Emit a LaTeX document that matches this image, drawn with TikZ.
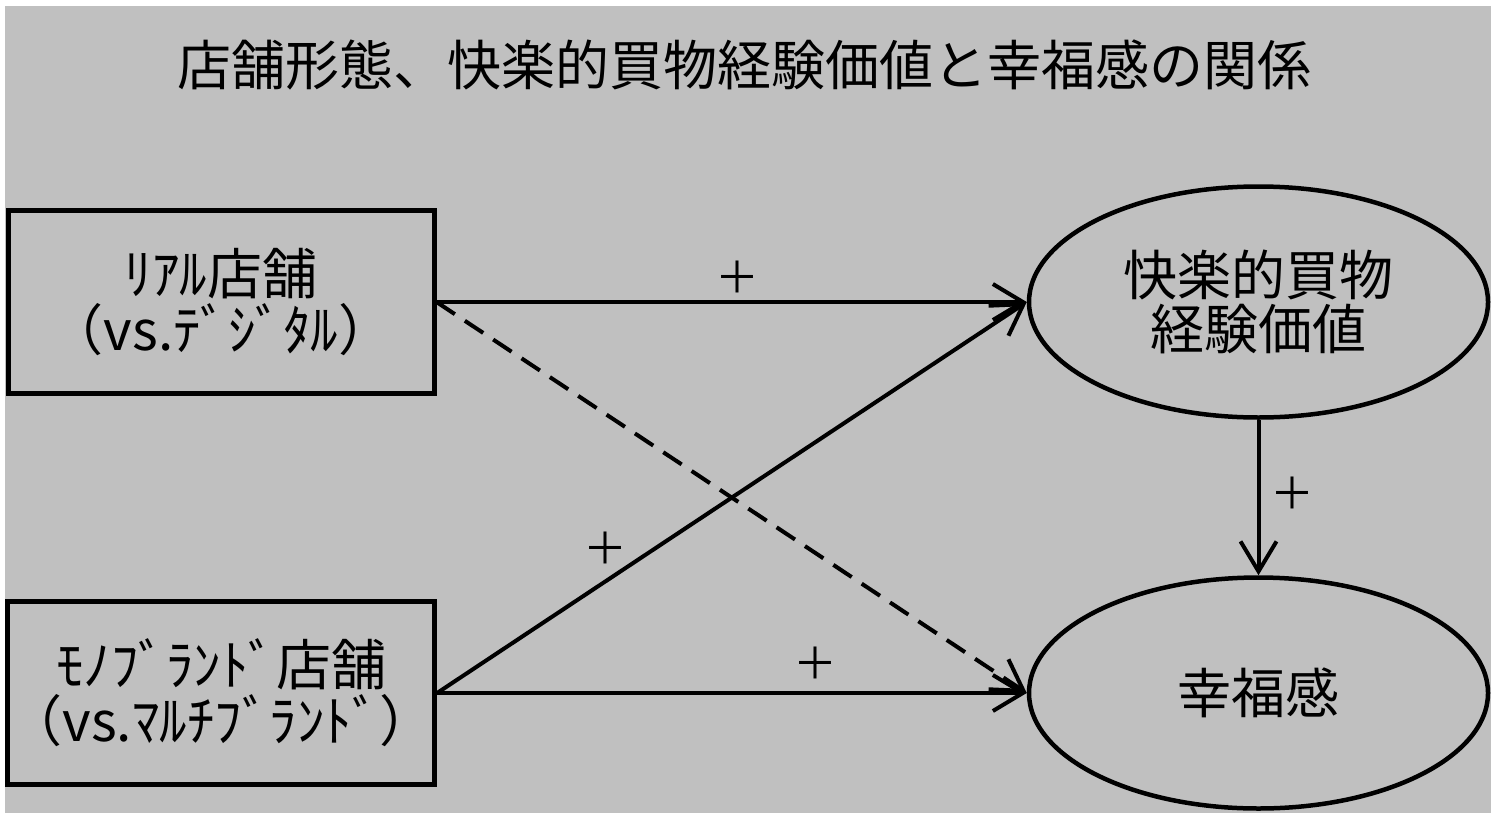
\documentclass[tikz,border=0pt]{standalone}
\usepackage{fontspec}
\setmainfont{Noto Sans CJK JP}
\usetikzlibrary{shapes.geometric,arrows.meta}
\definecolor{bggray}{RGB}{192,192,192}
\tikzset{
  boxnode/.style={draw, line width=5pt, minimum width=426pt, minimum height=183pt, inner sep=0pt, align=center, font=\fontsize{55}{56}\selectfont},
  ellnode/.style={draw, ellipse, line width=4.5pt, minimum width=459pt, minimum height=231pt, inner sep=0pt, align=center, font=\fontsize{54}{54}\selectfont},
  conn/.style={line width=4pt, -{Straight Barb[length=30pt, width=36pt, line width=4pt]}},
  plusmark/.style={font=\fontsize{44}{44}\selectfont, inner sep=0pt}
}
\begin{document}
\begin{tikzpicture}[x=1pt, y=-1pt]
\useasboundingbox (0,0) rectangle (1498,822);
\fill[white] (0,0) rectangle (1498,822);
\fill[bggray] (5,6) rectangle (1491,813);
\node[font=\fontsize{54}{54}\selectfont, inner sep=0pt] (title) at (744,65) {店舗形態、快楽的買物経験価値と幸福感の関係};
\node[boxnode] (b1) at (221,302) {ﾘｱﾙ店舗\\（vs.ﾃﾞｼﾞﾀﾙ）};
\node[boxnode] (b2) at (221,693) {ﾓﾉﾌﾞﾗﾝﾄﾞ店舗\\（vs.ﾏﾙﾁﾌﾞﾗﾝﾄﾞ）};
\node[ellnode] (e1) at (1258.5,302) {快楽的買物\\経験価値};
\node[ellnode] (e2) at (1258.5,693) {幸福感};
\draw[conn] (b1.east) -- (e1.west);
\draw[conn, dash pattern=on 22pt off 12pt] (b1.east) -- (e2.west);
\draw[conn] (b2.east) -- (e1.west);
\draw[conn] (b2.east) -- (e2.west);
\draw[conn] (e1.south) -- (e2.north);
\node[plusmark] (p1) at (737,277) {＋};
\node[plusmark] (p2) at (605,548) {＋};
\node[plusmark] (p3) at (815,663) {＋};
\node[plusmark] (p4) at (1292,493) {＋};
\end{tikzpicture}
\end{document}
